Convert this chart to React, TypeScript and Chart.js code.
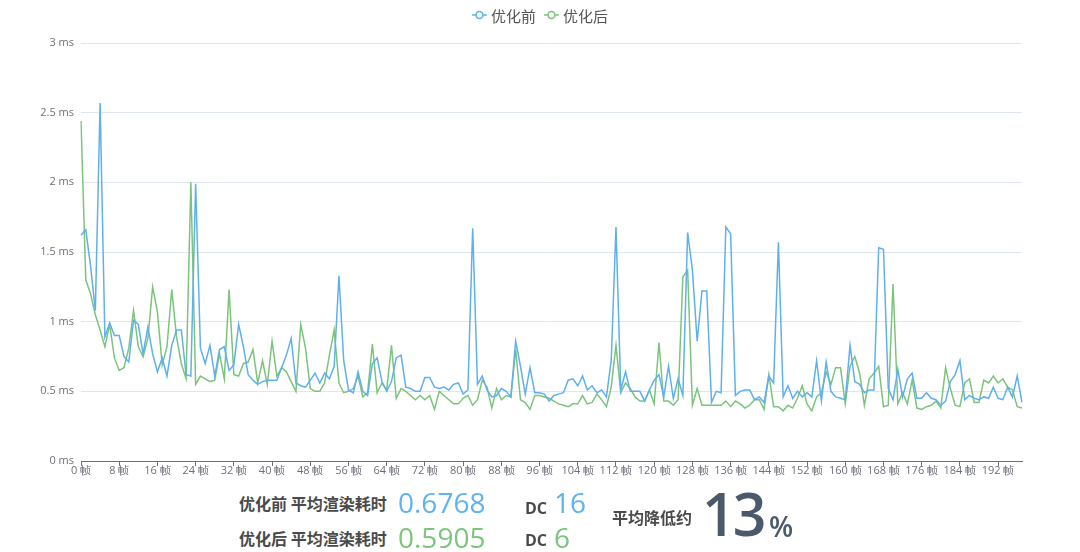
import React, { useEffect, useRef } from "react";
import { Chart, registerables } from "chart.js";

Chart.register(...registerables);

// ---- data ----
const seriesNames = ["优化前", "优化后"];

const beforeMs = [
  1.62, 1.66, 1.40, 1.08, 2.57, 0.89, 0.99, 0.90, 0.90, 0.75,
  0.71, 1.01, 0.98, 0.77, 0.96, 0.77, 0.64, 0.74, 0.61, 0.83,
  0.94, 0.94, 0.62, 0.61, 1.99, 0.81, 0.70, 0.83, 0.61, 0.80,
  0.82, 0.65, 0.69, 0.98, 0.82, 0.62, 0.58, 0.55, 0.57, 0.58,
  0.58, 0.58, 0.67, 0.76, 0.88, 0.56, 0.54, 0.53, 0.58, 0.63,
  0.56, 0.63, 0.59, 0.68, 1.33, 0.72, 0.51, 0.49, 0.64, 0.50,
  0.47, 0.70, 0.74, 0.57, 0.50, 0.57, 0.74, 0.76, 0.53, 0.52,
  0.50, 0.50, 0.60, 0.60, 0.53, 0.52, 0.53, 0.51, 0.55, 0.56,
  0.48, 0.51, 1.67, 0.55, 0.61, 0.51, 0.46, 0.47, 0.52, 0.50,
  0.46, 0.86, 0.68, 0.48, 0.67, 0.49, 0.49, 0.48, 0.43, 0.47,
  0.48, 0.49, 0.58, 0.59, 0.54, 0.61, 0.51, 0.54, 0.49, 0.51,
  0.46, 0.72, 1.68, 0.51, 0.64, 0.50, 0.50, 0.50, 0.43, 0.51,
  0.58, 0.62, 0.46, 0.68, 0.45, 0.59, 0.47, 1.64, 1.37, 0.86,
  1.22, 1.22, 0.42, 0.50, 0.49, 1.68, 1.63, 0.47, 0.50, 0.51,
  0.51, 0.44, 0.46, 0.42, 0.61, 0.56, 1.57, 0.46, 0.54, 0.45,
  0.50, 0.46, 0.49, 0.46, 0.72, 0.43, 0.71, 0.50, 0.46, 0.45,
  0.44, 0.83, 0.57, 0.55, 0.49, 0.51, 0.51, 1.53, 1.52, 0.52,
  0.44, 0.66, 0.46, 0.59, 0.63, 0.45, 0.45, 0.49, 0.45, 0.44,
  0.40, 0.43, 0.57, 0.62, 0.72, 0.44, 0.47, 0.45, 0.44, 0.46,
  0.45, 0.53, 0.45, 0.44, 0.53, 0.46, 0.61, 0.42,
];

const afterMs = [
  2.44, 1.30, 1.20, 1.05, 0.94, 0.82, 0.98, 0.74, 0.65, 0.67,
  0.81, 1.08, 0.82, 0.75, 0.88, 1.25, 1.07, 0.69, 0.82, 1.23,
  0.89, 0.70, 0.59, 2.00, 0.55, 0.61, 0.59, 0.57, 0.58, 0.77,
  0.59, 1.23, 0.62, 0.61, 0.70, 0.71, 0.80, 0.56, 0.72, 0.55,
  0.86, 0.61, 0.67, 0.64, 0.57, 0.50, 0.98, 0.81, 0.52, 0.50,
  0.50, 0.56, 0.76, 0.94, 0.56, 0.49, 0.50, 0.52, 0.61, 0.46,
  0.49, 0.84, 0.49, 0.56, 0.51, 0.83, 0.45, 0.52, 0.50, 0.47,
  0.44, 0.47, 0.44, 0.47, 0.37, 0.50, 0.47, 0.44, 0.41, 0.41,
  0.45, 0.47, 0.40, 0.44, 0.58, 0.53, 0.38, 0.52, 0.44, 0.47,
  0.46, 0.80, 0.44, 0.42, 0.37, 0.47, 0.47, 0.46, 0.45, 0.43,
  0.41, 0.40, 0.39, 0.41, 0.41, 0.47, 0.41, 0.42, 0.48, 0.44,
  0.39, 0.53, 0.83, 0.49, 0.56, 0.52, 0.46, 0.43, 0.43, 0.51,
  0.41, 0.85, 0.43, 0.43, 0.40, 0.44, 1.32, 1.37, 0.40, 0.52,
  0.40, 0.40, 0.40, 0.40, 0.40, 0.43, 0.39, 0.43, 0.41, 0.38,
  0.40, 0.44, 0.44, 0.37, 0.62, 0.39, 0.39, 0.36, 0.40, 0.38,
  0.45, 0.54, 0.41, 0.36, 0.46, 0.49, 0.64, 0.55, 0.67, 0.67,
  0.41, 0.68, 0.75, 0.63, 0.40, 0.59, 0.63, 0.68, 0.39, 0.40,
  1.27, 0.41, 0.49, 0.41, 0.58, 0.38, 0.37, 0.39, 0.40, 0.43,
  0.38, 0.67, 0.52, 0.40, 0.39, 0.56, 0.59, 0.42, 0.42, 0.58,
  0.56, 0.61, 0.56, 0.59, 0.53, 0.51, 0.39, 0.38,
];

const frameLabels = beforeMs.map((_, i) => `${i} 帧`);
const labelEvery = 8;

const avgBefore = "0.6768";
const avgAfter = "0.5905";
const dcBefore = "16";
const dcAfter = "6";
const reductionPct = "13";

// ---- styles ----
const BLUE = "#5eb0ef";
const GREEN = "#7cc47c";
const BLUE_TEXT = "#5db3f3";
const GREEN_TEXT = "#7bc67b";
const AXIS_TEXT = "#6E7079";
const LABEL_GRAY = "#4a4a4a";
const DARK = "#4a5a6b";
const CJK = "'Noto Sans CJK SC', 'Noto Sans', sans-serif";
const NUM = "'Open Sans', 'Noto Sans', sans-serif";

const legendPlugin = {
  id: "topLegend",
  afterDraw(chart: any) {
    const ctx = chart.ctx as CanvasRenderingContext2D;
    ctx.save();
    ctx.font = `15px ${CJK}`;
    const iconW = 15;
    const iconGap = 4;
    const itemGap = 8;
    const colors = [BLUE, GREEN];
    const widths = seriesNames.map((n) => ctx.measureText(n).width);
    const total =
      widths.reduce((a, w) => a + iconW + iconGap + w, 0) + itemGap * (seriesNames.length - 1);
    let x = chart.width / 2 - total / 2;
    const y = 7;
    seriesNames.forEach((name, i) => {
      const cx = x + iconW / 2;
      ctx.strokeStyle = colors[i];
      ctx.lineWidth = 1.5;
      ctx.beginPath();
      ctx.moveTo(x, y);
      ctx.lineTo(x + iconW, y);
      ctx.stroke();
      ctx.beginPath();
      ctx.arc(cx, y, 3.5, 0, Math.PI * 2);
      ctx.fillStyle = "#fff";
      ctx.fill();
      ctx.stroke();
      ctx.fillStyle = "#555";
      ctx.textAlign = "left";
      ctx.textBaseline = "middle";
      ctx.fillText(name, x + iconW + iconGap, y + 1);
      x += iconW + iconGap + widths[i] + itemGap;
    });
    ctx.restore();
  },
};

function LineChart() {
  const ref = useRef<HTMLCanvasElement | null>(null);
  useEffect(() => {
    if (!ref.current) return;
    const chart = new Chart(ref.current, {
      type: "line",
      data: {
        labels: frameLabels,
        datasets: [
          {
            label: seriesNames[0],
            data: beforeMs,
            borderColor: BLUE,
            backgroundColor: BLUE,
            borderWidth: 1.5,
            pointRadius: 0,
            tension: 0,
          },
          {
            label: seriesNames[1],
            data: afterMs,
            borderColor: GREEN,
            backgroundColor: GREEN,
            borderWidth: 1.5,
            pointRadius: 0,
            tension: 0,
          },
        ],
      },
      options: {
        animation: false,
        responsive: true,
        maintainAspectRatio: false,
        layout: { padding: { top: 35, left: 0, right: 50, bottom: 0 } },
        plugins: {
          legend: { display: false },
          tooltip: { enabled: false },
        },
        scales: {
          x: {
            type: "category",
            offset: false,
            afterFit: (s: any) => {
              s.height = 27;
            },
            border: { display: true, color: AXIS_TEXT, width: 1 },
            grid: {
              drawOnChartArea: false,
              drawTicks: true,
              tickLength: 5,
              color: AXIS_TEXT,
            },
            ticks: {
              autoSkip: false,
              maxRotation: 0,
              minRotation: 0,
              padding: -2,
              color: AXIS_TEXT,
              font: { size: 11, family: NUM },
              callback: (_v: any, idx: number) =>
                idx % labelEvery === 0 ? frameLabels[idx] : null,
            },
          },
          y: {
            min: 0,
            max: 3,
            afterFit: (s: any) => {
              s.width = 73;
            },
            border: { display: false },
            grid: { color: "#E0E6F1", drawTicks: false, lineWidth: 1 },
            ticks: {
              stepSize: 0.5,
              padding: 7,
              color: AXIS_TEXT,
              font: { size: 11, family: NUM },
              callback: (v: any) => `${v} ms`,
            },
          },
        },
      },
      plugins: [legendPlugin],
    });
    return () => chart.destroy();
  }, []);
  return (
    <div style={{ position: "absolute", left: 8, top: 8, width: 1064, height: 480 }}>
      <canvas ref={ref} />
    </div>
  );
}

const abs = (extra: React.CSSProperties): React.CSSProperties => ({
  position: "absolute",
  lineHeight: 1,
  whiteSpace: "nowrap",
  ...extra,
});

export default function App() {
  return (
    <div
      style={{
        position: "fixed",
        left: 0,
        top: 0,
        width: 1080,
        height: 552,
        overflow: "hidden",
        background: "#fff",
      }}
    >
      <LineChart />
      {/* row 1 */}
      <span style={abs({ left: 239, top: 495, fontFamily: CJK, fontWeight: 700, fontSize: 16, color: LABEL_GRAY })}>
        {seriesNames[0]} 平均渲染耗时
      </span>
      <span style={abs({ left: 398, top: 488, fontFamily: NUM, fontSize: 28, color: BLUE_TEXT })}>{avgBefore}</span>
      <span style={abs({ left: 525, top: 500, fontFamily: NUM, fontWeight: 700, fontSize: 16, color: LABEL_GRAY })}>DC</span>
      <span style={abs({ left: 554, top: 488, fontFamily: NUM, fontSize: 28, color: BLUE_TEXT })}>{dcBefore}</span>
      {/* row 2 */}
      <span style={abs({ left: 239, top: 530, fontFamily: CJK, fontWeight: 700, fontSize: 16, color: LABEL_GRAY })}>
        {seriesNames[1]} 平均渲染耗时
      </span>
      <span style={abs({ left: 398, top: 523, fontFamily: NUM, fontSize: 28, color: GREEN_TEXT })}>{avgAfter}</span>
      <span style={abs({ left: 525, top: 532, fontFamily: NUM, fontWeight: 700, fontSize: 16, color: LABEL_GRAY })}>DC</span>
      <span style={abs({ left: 554, top: 523, fontFamily: NUM, fontSize: 28, color: GREEN_TEXT })}>{dcAfter}</span>
      {/* summary */}
      <span style={abs({ left: 612, top: 509, fontFamily: CJK, fontWeight: 700, fontSize: 16, color: LABEL_GRAY })}>
        平均降低约
      </span>
      <span style={abs({ left: 702, top: 484, fontFamily: NUM, fontWeight: 600, fontSize: 59, letterSpacing: -3, color: DARK })}>
        {reductionPct}
      </span>
      <span style={abs({ left: 769, top: 512, fontFamily: NUM, fontWeight: 600, fontSize: 28, color: DARK })}>%</span>
    </div>
  );
}
